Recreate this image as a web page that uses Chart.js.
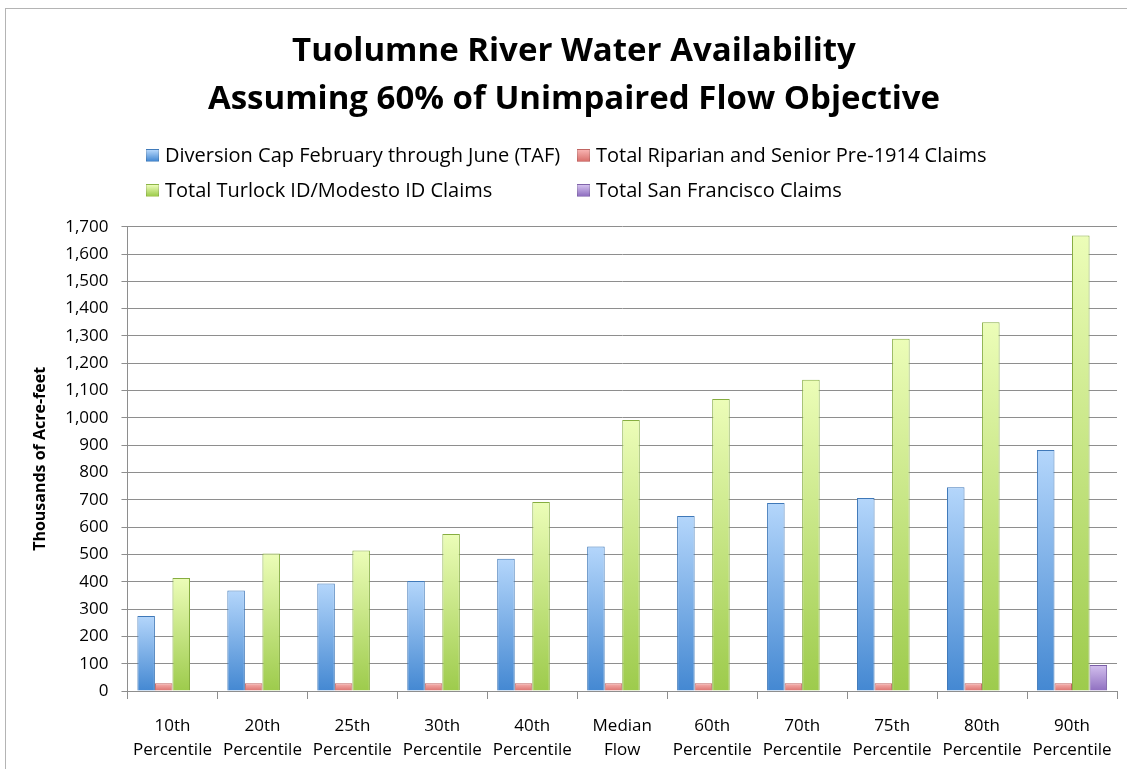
<!DOCTYPE html>
<html>
<head>
<meta charset="utf-8">
<script src="https://cdn.jsdelivr.net/npm/chart.js@4.4.1/dist/chart.umd.min.js"></script>
<style>
    html, body { margin: 0; padding: 0; background: #fff; }
    #wrap { position: relative; width: 1127px; height: 769px; overflow: hidden; }
    #frame { position: absolute; left: 5px; top: 8px; right: -2px; bottom: -2px; border: 1px solid #b4b4b4; }
    #chart { position: absolute; left: 0; top: 0; }
    #legend { position: absolute; left: 146px; top: 0; width: 960px; font-family: 'Open Sans', sans-serif; font-size: 20px; line-height: 24px; color: #000; }
    .leg-item { position: absolute; white-space: nowrap; display: flex; align-items: center; }
    .leg-box { width: 13px; height: 13px; margin-right: 6px; border: 1px solid rgba(0,0,0,0.12); box-sizing: border-box; }
</style>
</head>
<body>
<div id="wrap">
    <div id="frame"></div>
    <canvas id="chart" width="1127" height="769"></canvas>
    <div id="legend"></div>
</div>
<script>
const categories = [
    ['10th', 'Percentile'], ['20th', 'Percentile'], ['25th', 'Percentile'], ['30th', 'Percentile'],
    ['40th', 'Percentile'], ['Median', 'Flow'], ['60th', 'Percentile'], ['70th', 'Percentile'],
    ['75th', 'Percentile'], ['80th', 'Percentile'], ['90th', 'Percentile']
];

const diversionCap = [275, 368, 394, 403, 484, 529, 641, 688, 707, 746, 882];
const riparianClaims = [28, 28, 28, 28, 28, 28, 28, 28, 28, 28, 28];
const turlockModesto = [414, 503, 514, 575, 692, 992, 1069, 1140, 1290, 1350, 1668];
const sanFrancisco = [0, 0, 0, 0, 0, 0, 0, 0, 0, 0, 95];

const seriesNames = [
    'Diversion Cap February through June (TAF)',
    'Total Riparian and Senior Pre-1914 Claims',
    'Total Turlock ID/Modesto ID Claims',
    'Total San Francisco Claims'
];

// top colour, bottom colour, border
const palette = [
    ['#b4d6fb', '#4488d2', '#3f78b8'],
    ['#f7b2b0', '#d9716d', '#c06460'],
    ['#ecfdb8', '#9dcb4c', '#86ad40'],
    ['#d3c0ee', '#8f6fc0', '#7a5ea6']
];

function barGradient(idx) {
    return function(context) {
        const chart = context.chart;
        if (!chart.chartArea || context.raw === undefined) return palette[idx][1];
        const y = chart.scales.y;
        const top = y.getPixelForValue(context.raw);
        const bottom = y.getPixelForValue(0);
        if (bottom - top < 1) return palette[idx][1];
        const g = chart.ctx.createLinearGradient(0, top, 0, bottom);
        g.addColorStop(0, palette[idx][0]);
        g.addColorStop(1, palette[idx][1]);
        return g;
    };
}

const allSeries = [diversionCap, riparianClaims, turlockModesto, sanFrancisco];

const datasets = allSeries.map((values, i) => ({
    label: seriesNames[i],
    data: values,
    backgroundColor: barGradient(i),
    borderColor: palette[i][2],
    borderWidth: 1,
    borderSkipped: 'bottom',
    categoryPercentage: 0.78,
    barPercentage: 1.0
}));

// legend in two columns, like the original
const legendEl = document.getElementById('legend');
const legendPos = [[0, 143], [431, 143], [0, 178], [431, 178]];
seriesNames.forEach((name, i) => {
    const item = document.createElement('div');
    item.className = 'leg-item';
    item.style.left = legendPos[i][0] + 'px';
    item.style.top = legendPos[i][1] + 'px';
    item.innerHTML = `<span class="leg-box" style="background: linear-gradient(${palette[i][0]}, ${palette[i][1]});"></span><span>${name}</span>`;
    legendEl.appendChild(item);
});

const gridColor = '#8e8e8e';

new Chart(document.getElementById('chart').getContext('2d'), {
    type: 'bar',
    data: { labels: categories, datasets: datasets },
    options: {
        responsive: false,
        animation: false,
        layout: { padding: { left: 31, right: 10, top: 10, bottom: 0 } },
        plugins: {
            legend: { display: false },
            tooltip: { enabled: false },
            title: {
                display: true,
                text: ['Tuolumne River Water Availability', 'Assuming 60% of Unimpaired Flow Objective'],
                color: '#000',
                font: { family: "'Open Sans', sans-serif", size: 33, weight: 'bold', lineHeight: 1.45 },
                padding: { top: 18, bottom: 103 }
            }
        },
        scales: {
            x: {
                grid: { offset: true, drawOnChartArea: false, tickLength: 8, color: gridColor },
                border: { color: gridColor },
                afterFit: scale => { scale.height = 78; },
                ticks: {
                    color: '#000',
                    maxRotation: 0,
                    autoSkip: false,
                    padding: 15,
                    font: { family: "'Open Sans', sans-serif", size: 17, lineHeight: 1.42 }
                }
            },
            y: {
                min: 0,
                max: 1700,
                grid: { color: gridColor, tickLength: 6 },
                border: { color: gridColor },
                ticks: {
                    stepSize: 100,
                    color: '#000',
                    padding: 13,
                    font: { family: "'Open Sans', sans-serif", size: 17 },
                    callback: v => v.toLocaleString('en-US')
                },
                title: {
                    display: true,
                    text: 'Thousands of Acre-feet',
                    color: '#000',
                    padding: { top: 0, bottom: 2 },
                    font: { family: "'Open Sans', sans-serif", size: 16, weight: 'bold' }
                }
            }
        }
    }
});
</script>
</body>
</html>
